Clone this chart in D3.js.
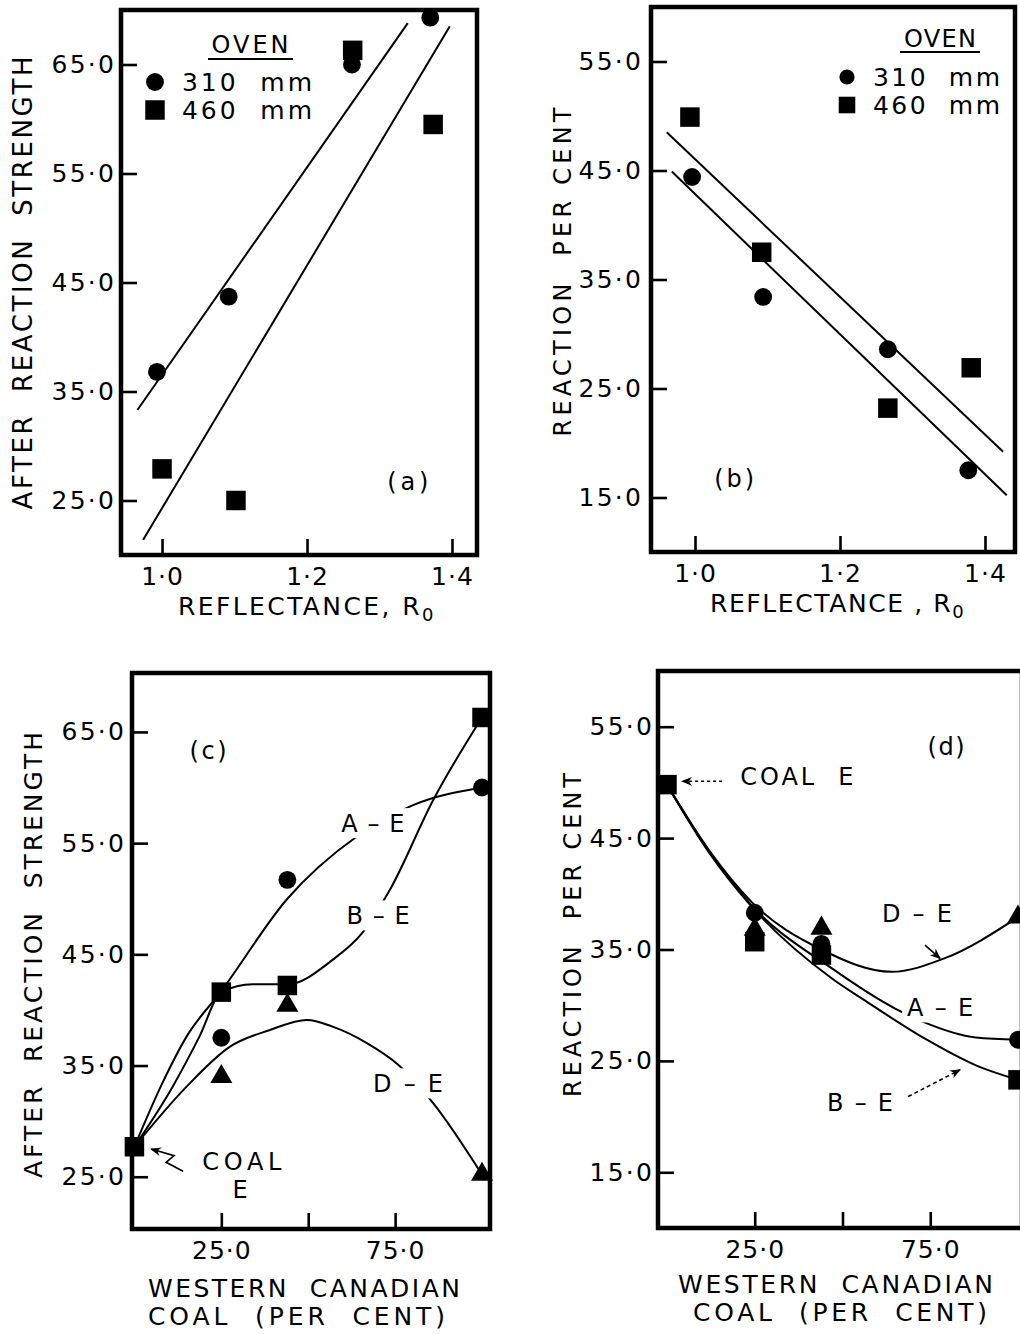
<!DOCTYPE html>
<html>
<head>
<meta charset="utf-8">
<script src="https://cdn.jsdelivr.net/npm/d3@7"></script>
<style>
body{margin:0;background:#fff;}
text{font-family:"DejaVu Sans","Liberation Sans",sans-serif;fill:#000;}
</style>
</head>
<body>
<div id="chart"></div>
<script>
(function(){
"use strict"
//---Coke strength / reaction vs reflectance and blend---

//tick values + labels
var reflTicks = [1.0, 1.2, 1.4],
	reflLabels = ["1·0", "1·2", "1·4"],
	strTicks = [25, 35, 45, 55, 65],
	strLabels = ["25·0", "35·0", "45·0", "55·0", "65·0"],
	reacTicks = [15, 25, 35, 45, 55],
	reacLabels = ["15·0", "25·0", "35·0", "45·0", "55·0"],
	coalTicks = [25, 50, 75],
	coalLabels = ["25·0", "", "75·0"];

//(a) strength after reaction vs reflectance  [Ro, value]
var a310 = [[0.993, 36.8], [1.092, 43.7], [1.262, 65.0], [1.370, 69.3]],
	a460 = [[1.000, 27.9], [1.102, 25.0], [1.263, 66.3], [1.374, 59.5]],
	a310Fit = [[0.966, 33.3], [1.339, 68.8]],
	a460Fit = [[0.974, 21.4], [1.397, 68.5]];

//(b) reaction per cent vs reflectance
var b310 = [[0.996, 44.4], [1.094, 33.4], [1.266, 28.6], [1.377, 17.5]],
	b460 = [[0.993, 49.9], [1.092, 37.5], [1.266, 23.2], [1.381, 26.9]],
	b310Fit = [[0.968, 44.9], [1.430, 15.2]],
	b460Fit = [[0.961, 48.5], [1.425, 19.2]];

//(c) strength after reaction vs western canadian coal %
var coalPct = [25, 44, 100],
	cAE = [37.5, 51.7, 60.0],
	cBE = [41.6, 42.2, 66.3],
	cDE = [34.0, 40.4, 25.2],
	cCoalE = [[0, 27.7]],
	cAECurve = [[0, 27.7], [8, 33.4], [15, 37.6], [25, 41.7], [44, 50.0], [64, 55.6], [80, 58.4], [100, 60.0]],
	cBECurve = [[0, 27.7], [11, 33.1], [18.7, 37.6], [25, 41.6], [34, 42.3], [44, 42.3], [57, 44.5], [65.5, 46.9], [73.5, 50.8], [86, 58.9], [100, 66.3]],
	cDECurve = [[0, 27.7], [15, 33.1], [27.5, 36.7], [39, 38.2], [49.6, 39.1], [57, 38.5], [67, 37.0], [75.8, 35.1], [86, 31.6], [100, 25.2]];

//(d) reaction per cent vs western canadian coal %
var dAE = [38.3, 35.5, 26.9],
	dBE = [35.7, 34.5, 23.3],
	dDE = [36.8, 36.9, 37.9],
	dCoalE = [[0, 49.8]],
	dAECurve = [[0, 49.8], [12, 43.8], [24, 39.0], [47, 33.3], [65, 29.7], [73, 28.5], [88, 27.1], [100, 26.9]],
	dBECurve = [[0, 49.8], [12, 43.7], [24, 38.9], [47, 32.4], [56, 30.5], [74, 26.9], [88, 24.6], [100, 23.3]],
	dDECurve = [[0, 49.8], [12, 43.9], [24, 39.3], [44, 35.0], [64, 33.0], [79, 34.2], [100, 37.9]];

var pair = function(xs, ys){ return xs.map(function(d, i){ return [d, ys[i]]; }); };

var svg = d3.select('#chart').append('svg')
	.attr('width', 1020)
	.attr('height', 1334)
	.style('background', '#fff');

svg.append('defs').append('marker')
	.attr('id', 'head')
	.attr('viewBox', '0 0 10 10')
	.attr('refX', 9).attr('refY', 5)
	.attr('markerWidth', 11).attr('markerHeight', 11)
	.attr('markerUnits', 'userSpaceOnUse')
	.attr('orient', 'auto')
	.append('path').attr('d', 'M0,1L10,5L0,9L3,5Z').attr('fill', '#000');

var sym = {
	circle: d3.symbol().type(d3.symbolCircle).size(250),
	square: d3.symbol().type(d3.symbolSquare).size(380),
	triangle: d3.symbol().type(d3.symbolTriangle).size(210)
};

var panels = [
	{	frame: [121, 10, 477, 555], xd: [0.9434, 1.4345], yd: [20, 70],
		xt: reflTicks, xl: reflLabels, yt: strTicks, yl: strLabels, yPad: 5,
		lines: [a310Fit, a460Fit], curve: d3.curveLinear,
		marks: [{d: a310, s: 'circle'}, {d: a460, s: 'square'}],
		ytitle: {t: 'AFTER  REACTION  STRENGTH', x: 23, y: 283, L: 453, fs: 26},
		xtitle: [{t: 'REFLECTANCE, R', sub: '0', x: 178, y: 615, ls: 2.4}],
		legend: {ox: 250, oy: 44, ul: [208, 293, 59], mx: 155, tx: 182, tw: 130, rows: [82, 110], r: 1},
		notes: [{t: '(a)', x: 1.339, y: 26.8, L: 41}]
	},
	{	frame: [651, 7, 1015, 552], xd: [0.9393, 1.4414], yd: [10, 60],
		xt: reflTicks, xl: reflLabels, yt: reacTicks, yl: reacLabels, yPad: 8,
		lines: [b310Fit, b460Fit], curve: d3.curveLinear,
		marks: [{d: b310, s: 'circle'}, {d: b460, s: 'square'}],
		ytitle: {t: 'REACTION  PER CENT', x: 562, y: 272, L: 329, fs: 24},
		xtitle: [{t: 'REFLECTANCE , R', sub: '0', x: 710, y: 612, ls: 1.6}],
		legend: {ox: 940, oy: 38, ul: [900, 980, 52], mx: 847, tx: 873, tw: 127, rows: [77, 105], r: 0.85},
		notes: [{t: '(b)', x: 1.054, y: 16.8, L: 40}]
	},
	{	frame: [132, 673, 490, 1229], xd: [-0.7, 102.3], yd: [20.3, 70.3],
		xt: coalTicks, xl: coalLabels, yt: strTicks, yl: strLabels, yPad: 6,
		lines: [cAECurve, cBECurve, cDECurve], curve: d3.curveMonotoneX,
		marks: [{d: pair(coalPct, cAE), s: 'circle'}, {d: pair(coalPct, cBE), s: 'square'},
			{d: pair(coalPct, cDE), s: 'triangle'}, {d: cCoalE, s: 'square'}],
		ytitle: {t: 'AFTER  REACTION  STRENGTH', x: 33, y: 955, L: 446, fs: 25},
		xtitle: [{t: 'WESTERN  CANADIAN', x: 148, y: 1297, L: 312}, {t: 'COAL  (PER  CENT)', x: 148, y: 1325, L: 297}],
		notes: [{t: 'A – E', x: 68.6, y: 56.8, L: 63, mask: true}, {t: 'B – E', x: 70.1, y: 48.5, L: 63, mask: true},
			{t: 'D – E', x: 78.7, y: 33.4, L: 70, mask: true}, {t: '(c)', x: 21.2, y: 63.3, L: 37},
			{t: 'COAL', x: 30.9, y: 26.4, L: 79}, {t: 'E', x: 30.4, y: 23.9}],
		arrows: [{p: [[14.0, 25.5], [9.1, 26.3], [11.4, 26.9], [4.8, 27.5]]}]
	},
	{	frame: [658, 671, 1022, 1228], xd: [-2.56, 101.14], yd: [10, 60],
		xt: coalTicks, xl: coalLabels, yt: reacTicks, yl: reacLabels, yPad: 4,
		lines: [dAECurve, dBECurve, dDECurve], curve: d3.curveMonotoneX,
		marks: [{d: pair(coalPct, dBE), s: 'square'}, {d: pair(coalPct, dAE), s: 'circle'},
			{d: pair(coalPct, dDE), s: 'triangle'}, {d: dCoalE, s: 'square'}],
		ytitle: {t: 'REACTION  PER CENT', x: 572, y: 935, L: 324, fs: 24},
		xtitle: [{t: 'WESTERN  CANADIAN', x: 678, y: 1293, L: 315}, {t: 'COAL  (PER  CENT)', x: 693, y: 1321, L: 294}],
		notes: [{t: 'COAL  E', x: 37.0, y: 50.5, L: 113}, {t: '(d)', x: 79.5, y: 53.2, L: 37},
			{t: 'D – E', x: 71.2, y: 38.2, L: 70}, {t: 'A – E', x: 77.8, y: 29.8, L: 66, mask: true},
			{t: 'B – E', x: 55.0, y: 21.3, L: 66}],
		arrows: [{p: [[15.7, 50.1], [4.3, 50.1]], dash: '3,3'}, {p: [[73.5, 35.4], [77.8, 34.2]]},
			{p: [[68.7, 21.8], [83.5, 24.2]], dash: '4,3'}]
	}
];

panels.forEach(function(p){
	var f = p.frame,
		x = d3.scaleLinear().domain(p.xd).range([f[0], f[2]]),
		y = d3.scaleLinear().domain(p.yd).range([f[3], f[1]]),
		g = svg.append('g');

	//axes, ticks pointing into the frame
	var ya = g.append('g').attr('transform', 'translate(' + f[0] + ',0)')
		.call(d3.axisLeft(y).tickValues(p.yt)
			.tickFormat(function(d, i){ return p.yl[i]; })
			.tickSizeInner(-16).tickSizeOuter(0).tickPadding(p.yPad));
	var xa = g.append('g').attr('transform', 'translate(0,' + f[3] + ')')
		.call(d3.axisBottom(x).tickValues(p.xt)
			.tickFormat(function(d, i){ return p.xl[i]; })
			.tickSizeInner(-16).tickSizeOuter(0).tickPadding(12));
	[ya, xa].forEach(function(a){
		a.select('.domain').remove();
		a.selectAll('line').attr('stroke-width', 2.6);
		a.selectAll('text').attr('font-size', 25);
	});
	ya.selectAll('text').attr('letter-spacing', 2.2);
	xa.selectAll('text').attr('letter-spacing', 1);

	g.append('rect')
		.attr('x', f[0]).attr('y', f[1])
		.attr('width', f[2] - f[0]).attr('height', f[3] - f[1])
		.style('fill', 'none').style('stroke', '#000').style('stroke-width', 4.5);

	var line = d3.line()
		.x(function(d){ return x(d[0]); })
		.y(function(d){ return y(d[1]); })
		.curve(p.curve);

	g.selectAll('path.fit')
		.data(p.lines)
		.enter()
			.append('path')
				.attr('class', 'fit')
				.attr('d', line)
				.style('fill', 'none')
				.style('stroke', '#000')
				.style('stroke-width', 2);

	//white patches where the curves break around a label
	(p.notes || []).filter(function(n){ return n.mask; }).forEach(function(n){
		g.append('rect')
			.attr('x', x(n.x) - n.L / 2 - 5).attr('y', y(n.y) - 15)
			.attr('width', n.L + 10).attr('height', 30)
			.style('fill', '#fff');
	});

	(p.arrows || []).forEach(function(a){
		g.append('path')
			.attr('d', d3.line().x(function(d){ return x(d[0]); }).y(function(d){ return y(d[1]); })(a.p))
			.style('fill', 'none').style('stroke', '#000').style('stroke-width', 1.6)
			.style('stroke-dasharray', a.dash || null)
			.attr('marker-end', 'url(#head)');
	});

	p.marks.forEach(function(m){
		g.selectAll(null)
			.data(m.d)
			.enter()
				.append('path')
					.attr('transform', function(d){ return 'translate(' + x(d[0]) + ',' + y(d[1]) + ')'; })
					.attr('d', sym[m.s])
					.style('fill', '#000');
	});

	(p.notes || []).forEach(function(n){
		var t = g.append('text')
			.attr('x', x(n.x)).attr('y', y(n.y))
			.attr('dy', '0.36em')
			.attr('text-anchor', 'middle')
			.attr('font-size', 24)
			.style('white-space', 'pre')
			.text(n.t);
		if (n.L) t.attr('textLength', n.L).attr('lengthAdjust', 'spacing');
	});

	//axis titles
	g.append('text')
		.attr('transform', 'translate(' + p.ytitle.x + ',' + p.ytitle.y + ') rotate(-90)')
		.attr('dy', '0.36em')
		.attr('text-anchor', 'middle')
		.attr('font-size', p.ytitle.fs)
		.attr('textLength', p.ytitle.L).attr('lengthAdjust', 'spacing')
		.style('white-space', 'pre')
		.text(p.ytitle.t);

	p.xtitle.forEach(function(t){
		var el = g.append('text')
			.attr('x', t.x).attr('y', t.y)
			.attr('font-size', 25)
			.style('white-space', 'pre');
		if (t.sub){
			el.attr('letter-spacing', t.ls).text(t.t);
			el.append('tspan').attr('font-size', 18).attr('dy', 6).text(t.sub);
		} else {
			el.attr('textLength', t.L).attr('lengthAdjust', 'spacing').text(t.t);
		}
	});

	//legend (top panels only)
	if (p.legend){
		var L = p.legend;
		g.append('text')
			.attr('x', L.ox).attr('y', L.oy).attr('dy', '0.36em')
			.attr('text-anchor', 'middle').attr('font-size', 24)
			.attr('textLength', L.ul[1] - L.ul[0] - 8).attr('lengthAdjust', 'spacing')
			.text('OVEN');
		g.append('line')
			.attr('x1', L.ul[0]).attr('x2', L.ul[1])
			.attr('y1', L.ul[2]).attr('y2', L.ul[2])
			.style('stroke', '#000').style('stroke-width', 2);
		var keys = [{s: 'circle', t: '310  mm'}, {s: 'square', t: '460  mm'}];
		keys.forEach(function(k, i){
			g.append('path')
				.attr('transform', 'translate(' + L.mx + ',' + L.rows[i] + ') scale(' + L.r + ')')
				.attr('d', sym[k.s]).style('fill', '#000');
			g.append('text')
				.attr('x', L.tx).attr('y', L.rows[i]).attr('dy', '0.36em')
				.attr('font-size', 25)
				.attr('textLength', L.tw).attr('lengthAdjust', 'spacing')
				.style('white-space', 'pre')
				.text(k.t);
		});
	}
});

})();
</script>
</body>
</html>
